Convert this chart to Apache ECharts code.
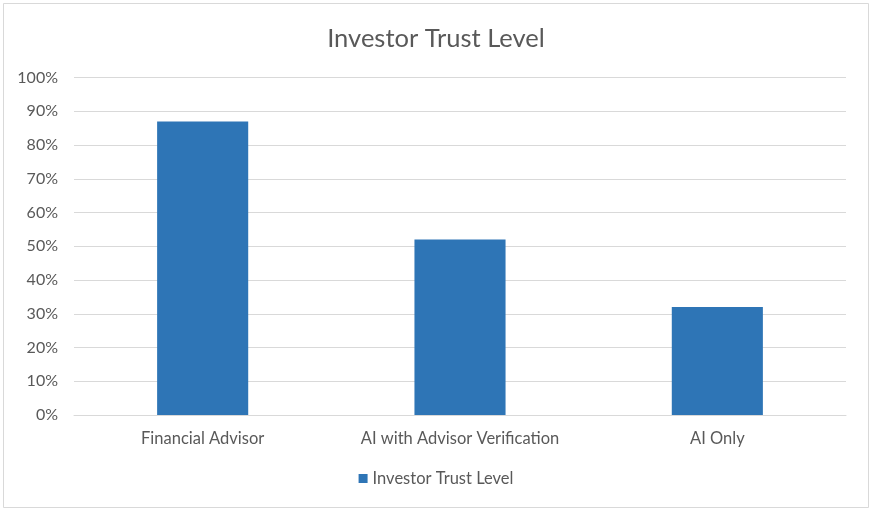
<!DOCTYPE html>
<html><head><meta charset="utf-8">
<script src="https://cdn.jsdelivr.net/npm/echarts@6/dist/echarts.min.js"></script>
<style>html,body{margin:0;padding:0;background:#fff}#c{width:872px;height:512px}</style>
</head><body><div id="c"></div>
<script>
const title = 'Investor Trust Level';
const categories = ['Financial Advisor', 'AI with Advisor Verification', 'AI Only'];
const seriesName = 'Investor Trust Level';
const values = [87, 52, 32];
const yTicks = [0, 10, 20, 30, 40, 50, 60, 70, 80, 90, 100];

const font = 'Lato, "Open Sans", sans-serif';
const chart = echarts.init(document.getElementById('c'), null, {renderer: 'canvas'});
chart.setOption({
  animation: false,
  backgroundColor: '#fff',
  textStyle: {fontFamily: font},
  title: {text: title, left: 'center', top: 21, textStyle: {fontFamily: font, fontSize: 25.5, fontWeight: 'normal', color: '#595959'}},
  graphic: [{type: 'rect', shape: {x: 3.5, y: 3.5, width: 865, height: 504}, style: {fill: 'none', stroke: '#d9d9d9', lineWidth: 1}, silent: true}],
  grid: {left: 74, right: 26, top: 77.5, bottom: 97, containLabel: false},
  legend: {bottom: 20, left: 'center', itemWidth: 9, itemHeight: 9, icon: 'rect', itemGap: 10,
    textStyle: {fontFamily: font, fontSize: 16.5, color: '#595959'}, data: [seriesName]},
  xAxis: {type: 'category', data: categories,
    axisLine: {lineStyle: {color: '#d9d9d9', width: 1}}, axisTick: {show: false},
    axisLabel: {interval: 0, hideOverlap: false, fontFamily: font, fontSize: 16.5, color: '#595959', margin: 15}},
  yAxis: {type: 'value', min: yTicks[0], max: yTicks[yTicks.length - 1], interval: 10,
    axisLine: {show: false}, axisTick: {show: false},
    splitLine: {lineStyle: {color: '#d9d9d9', width: 1}},
    axisLabel: {fontFamily: font, fontSize: 16, color: '#595959', margin: 16, formatter: v => v + '%'}},
  series: [{name: seriesName, type: 'bar', data: values, barWidth: '35.4%', itemStyle: {color: '#2e75b6'}}]
});
</script></body></html>
